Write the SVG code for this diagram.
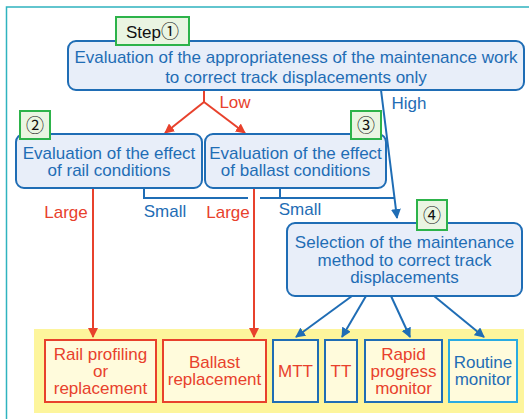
<svg xmlns="http://www.w3.org/2000/svg" width="529" height="419" viewBox="0 0 529 419">
<defs>
<style>
text{font-family:"Liberation Sans","DejaVu Sans",Arial,sans-serif;font-size:17px;text-anchor:middle}
.node{fill:#e8eef9;stroke:#1f6db5;stroke-width:2}
.badge{fill:#eaf5e2;stroke:#2db34a;stroke-width:2}
.bt{fill:#111}
.cj{font-family:"Noto Sans CJK JP","DejaVu Sans",sans-serif;font-size:18px}
.tb{fill:#1f6db5}
.tr{fill:#e8412c}
.lb{stroke:#1f6db5;stroke-width:2;fill:none}
.lr{stroke:#e8412c;stroke-width:2;fill:none}
.out{fill:#fffbdc;stroke-width:2}
</style>
<marker id="ar" viewBox="0 0 10 10" refX="9" refY="5" markerWidth="10" markerHeight="10" markerUnits="userSpaceOnUse" orient="auto"><path d="M0,0 L10,5 L0,10 z" fill="#e8412c"/></marker>
<marker id="ab" viewBox="0 0 10 10" refX="9" refY="5" markerWidth="10" markerHeight="10" markerUnits="userSpaceOnUse" orient="auto"><path d="M0,0 L10,5 L0,10 z" fill="#1f6db5"/></marker>
</defs>
<rect x="0" y="0" width="529" height="419" fill="#fff"/>
<path d="M6.5,419 V7 H529" fill="none" stroke="#2fb3bf" stroke-width="1.5"/>
<rect x="34" y="329" width="490" height="84" fill="#fdf59c"/>

<g id="connectors">
<path class="lr" d="M204,90 V102"/>
<path class="lr" d="M204,102 L165,133" marker-end="url(#ar)"/>
<path class="lr" d="M204,102 L245,133" marker-end="url(#ar)"/>
<path class="lb" d="M381,90 L397,218" marker-end="url(#ab)"/>
<path class="lb" d="M144,188 V198 H248 M260,198 H394.5 M280,188 V198"/>
<path class="lr" d="M93,188 V337" marker-end="url(#ar)"/>
<path class="lr" d="M254,188 V337" marker-end="url(#ar)"/>
<path class="lb" d="M352,296 L296,337" marker-end="url(#ab)"/>
<path class="lb" d="M366,296 L342,337" marker-end="url(#ab)"/>
<path class="lb" d="M391,296 L410,337" marker-end="url(#ab)"/>
<path class="lb" d="M434,296 L484,337" marker-end="url(#ab)"/>
<text class="tr" x="235" y="108">Low</text>
<text class="tb" x="409" y="109">High</text>
<text class="tr" x="66" y="218">Large</text>
<text class="tb" x="165" y="217">Small</text>
<text class="tr" x="228" y="218">Large</text>
<text class="tb" x="300" y="215">Small</text>
</g>

<g id="step1">
<rect class="node" x="68" y="41" width="456" height="49" rx="8"/>
<text class="tb" x="296" y="63">Evaluation of the appropriateness of the maintenance work</text>
<text class="tb" x="296" y="83">to correct track displacements only</text>
<rect class="badge" x="116" y="17" width="73" height="28"/>
<text class="bt" x="152.5" y="38">Step<tspan class="cj">①</tspan></text>
</g>

<g id="step2">
<rect class="node" x="16" y="134" width="186" height="54" rx="8"/>
<text class="tb" x="109" y="159">Evaluation of the effect</text>
<text class="tb" x="109" y="176">of rail conditions</text>
<rect class="badge" x="20" y="111" width="30" height="28"/>
<text class="bt cj" x="35" y="132">②</text>
</g>

<g id="step3">
<rect class="node" x="205" y="134" width="181" height="54" rx="8"/>
<text class="tb" x="295.5" y="159">Evaluation of the effect</text>
<text class="tb" x="295.5" y="176">of ballast conditions</text>
<rect class="badge" x="351" y="111" width="30" height="28"/>
<text class="bt cj" x="366" y="132">③</text>
</g>

<g id="step4">
<rect class="node" x="287" y="223" width="235" height="73" rx="8"/>
<text class="tb" x="404.5" y="248">Selection of the maintenance</text>
<text class="tb" x="404.5" y="266">method to correct track</text>
<text class="tb" x="404.5" y="283">displacements</text>
<rect class="badge" x="417" y="200" width="30" height="30"/>
<text class="bt cj" x="432" y="222">④</text>
</g>

<g id="rail">
<rect class="out" x="45" y="340" width="111" height="62" stroke="#e8412c"/>
<text class="tr" x="100.5" y="360">Rail profiling</text>
<text class="tr" x="100.5" y="377">or</text>
<text class="tr" x="100.5" y="394">replacement</text>
</g>
<g id="ballast">
<rect class="out" x="163" y="340" width="103" height="62" stroke="#e8412c"/>
<text class="tr" x="214.5" y="368">Ballast</text>
<text class="tr" x="214.5" y="385">replacement</text>
</g>
<g id="mtt">
<rect class="out" x="273" y="340" width="45" height="62" stroke="#1f6db5"/>
<text class="tr" x="295.5" y="377">MTT</text>
</g>
<g id="tt">
<rect class="out" x="325" y="340" width="32" height="62" stroke="#1f6db5"/>
<text class="tr" x="341" y="377">TT</text>
</g>
<g id="rapid">
<rect class="out" x="365" y="340" width="77" height="62" stroke="#1f6db5"/>
<text class="tr" x="403.5" y="360">Rapid</text>
<text class="tr" x="403.5" y="377">progress</text>
<text class="tr" x="403.5" y="394">monitor</text>
</g>
<g id="routine">
<rect class="out" x="449" y="340" width="68" height="62" stroke="#29abe2"/>
<text class="tb" x="483" y="368">Routine</text>
<text class="tb" x="483" y="385">monitor</text>
</g>
</svg>
